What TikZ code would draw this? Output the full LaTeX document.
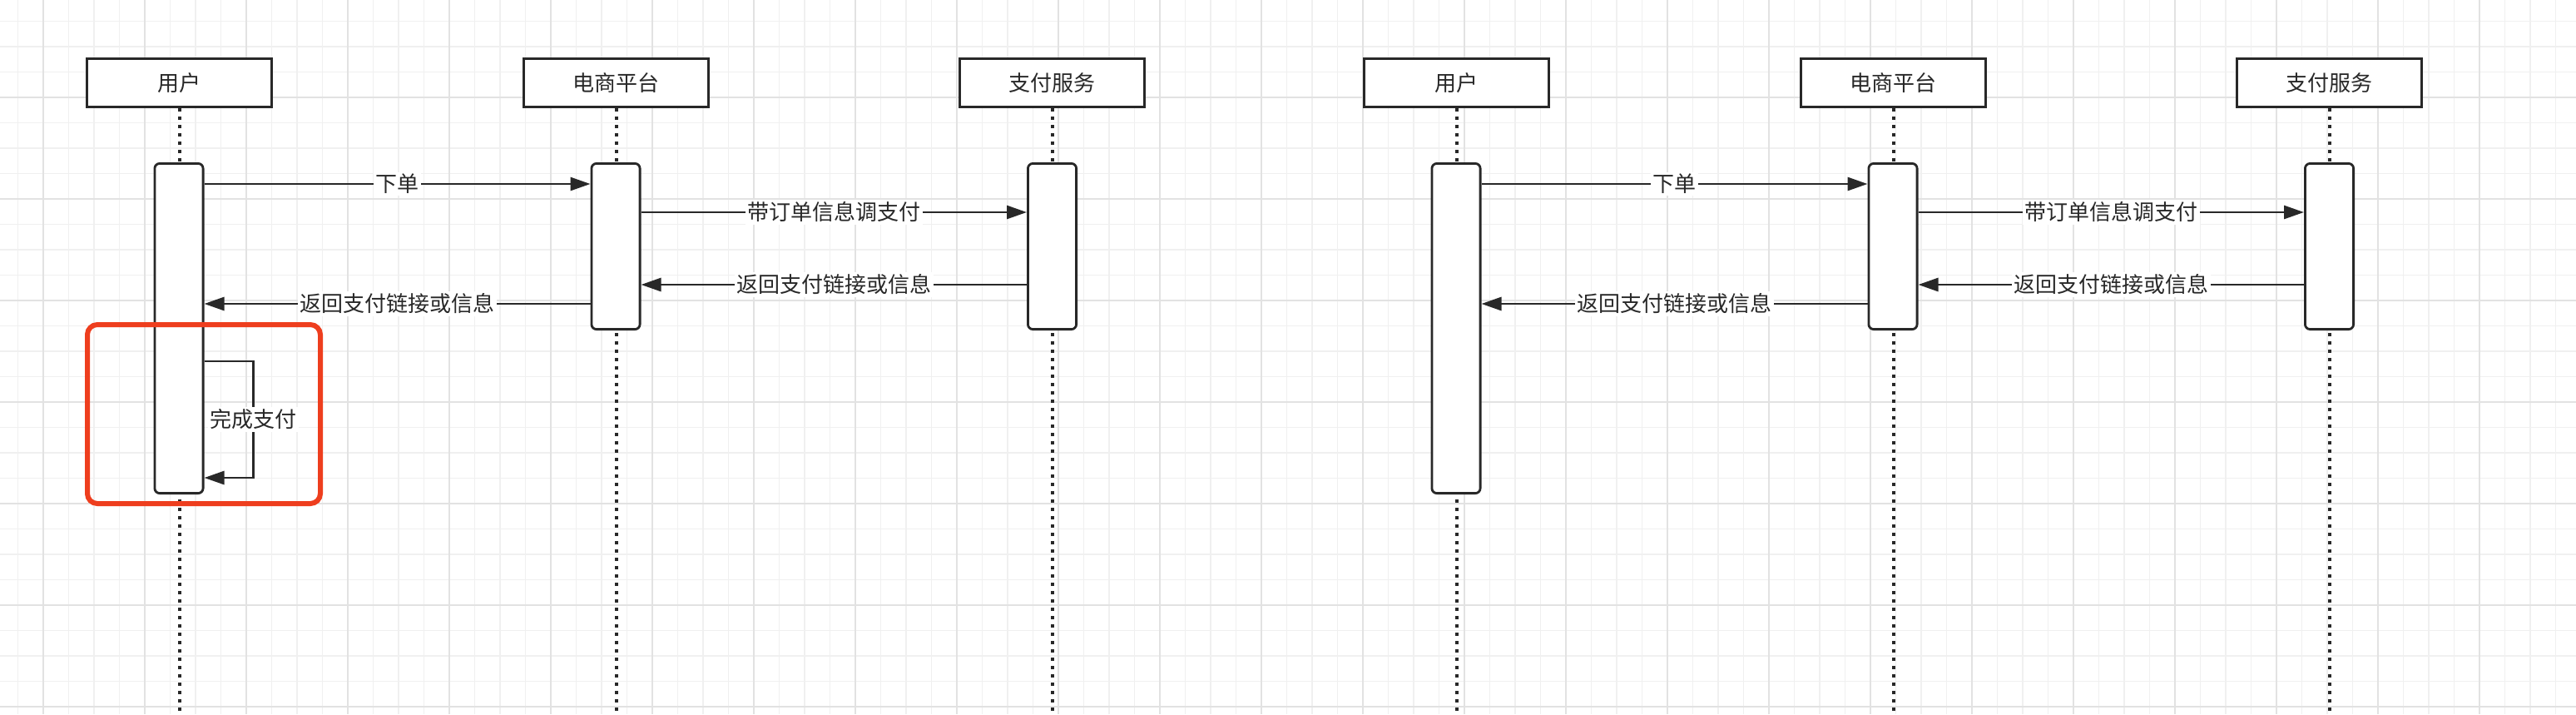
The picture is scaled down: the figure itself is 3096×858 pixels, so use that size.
\documentclass[tikz,border=0pt]{standalone}
\usepackage{fontspec}
\setmainfont{Noto Sans CJK SC}
\usetikzlibrary{arrows.meta}
\definecolor{gridminor}{RGB}{240,240,240}
\definecolor{gridmajor}{RGB}{226,226,226}
\definecolor{ink}{RGB}{40,40,40}
\definecolor{hl}{RGB}{238,62,30}
\tikzset{
  txt/.style={font=\fontsize{13pt}{15.5pt}\selectfont, text=ink},
  hdr/.style={txt, draw=ink, fill=white, line width=1.5pt, minimum width=111pt, minimum height=29pt, inner sep=0pt},
  act/.style={draw=ink, fill=white, line width=1.4pt, rounded corners=3pt, minimum width=29.1pt, inner sep=0pt},
  life/.style={draw=ink, line width=2pt, dash pattern=on 2pt off 3pt},
  msg/.style={draw=ink, line width=1.4pt, -{Triangle[length=12pt,width=8pt]}},
  lbl/.style={txt, fill=white, inner sep=1.2pt},
  redbox/.style={draw=hl, line width=3pt, rounded corners=6pt, minimum width=140pt, minimum height=107.5pt, inner sep=0pt},
  gminor/.style={draw=gridminor, line width=0.8pt},
  gmajor/.style={draw=gridmajor, line width=0.8pt}
}
\newcommand\seqdiag[2]{%
  \node[hdr] (#1u) at (#2+215.5,99.5) {用户};
  \node[hdr] (#1e) at (#2+740.5,99.5) {电商平台};
  \node[hdr] (#1p) at (#2+1264.5,99.5) {支付服务};
  \coordinate (#1ub) at (#2+215.5,858);
  \coordinate (#1eb) at (#2+740.5,858);
  \coordinate (#1pb) at (#2+1264.5,858);
  \draw[life] (#1u.south) -- (#1ub);
  \draw[life] (#1e.south) -- (#1eb);
  \draw[life] (#1p.south) -- (#1pb);
  \node[act, minimum height=198.1pt] (#1ua) at (#2+215,394.5) {};
  \node[act, minimum height=99.6pt] (#1ea) at (#2+740,296) {};
  \node[act, minimum height=99.6pt] (#1pa) at (#2+1264.5,296) {};
  \draw[msg] ([yshift=-13pt]#1ua.north east) -- node[lbl]{下单} ([yshift=-13pt]#1ea.north west);
  \draw[msg] ([yshift=-30pt]#1ea.north east) -- node[lbl]{带订单信息调支付} ([yshift=-30pt]#1pa.north west);
  \draw[msg] ([yshift=-73.5pt]#1pa.north west) -- node[lbl]{返回支付链接或信息} ([yshift=-73.5pt]#1ea.north east);
  \draw[msg] ([yshift=-85pt]#1ea.north west) -- node[lbl]{返回支付链接或信息} ([yshift=-85pt]#1ua.north east);
}
\begin{document}
\begin{tikzpicture}[x=0.5pt,y=-0.5pt]
  \useasboundingbox (0,0) rectangle (3096,858);
  \fill[white] (0,0) rectangle (3096,858);
  % grid
  \foreach \k in {-1,...,99} {
    \pgfmathsetmacro\xx{52+30.5*\k}
    \draw[gminor] (\xx,0) -- (\xx,858);
  }
  \foreach \k in {-3,...,24} {
    \pgfmathsetmacro\yy{117+30.5*\k}
    \draw[gminor] (0,\yy) -- (3096,\yy);
  }
  \foreach \k in {0,...,25} {
    \pgfmathsetmacro\xx{52+122*\k}
    \draw[gmajor] (\xx,0) -- (\xx,858);
  }
  \foreach \k in {0,...,6} {
    \pgfmathsetmacro\yy{117+122*\k}
    \draw[gmajor] (0,\yy) -- (3096,\yy);
  }
  % left diagram
  \seqdiag{a}{0}
  \coordinate (ls) at ([yshift=-119.5pt]aua.north east);
  \coordinate (le) at ([yshift=-189.5pt]aua.north east);
  \draw[msg] (ls) -- ++(59,0) coordinate (lp)
     -- (lp |- le) node[midway, lbl]{完成支付}
     -- (le);
  \node[redbox] (hlbox) at (245,497.5) {};
  % right diagram
  \seqdiag{b}{1535}
\end{tikzpicture}
\end{document}
